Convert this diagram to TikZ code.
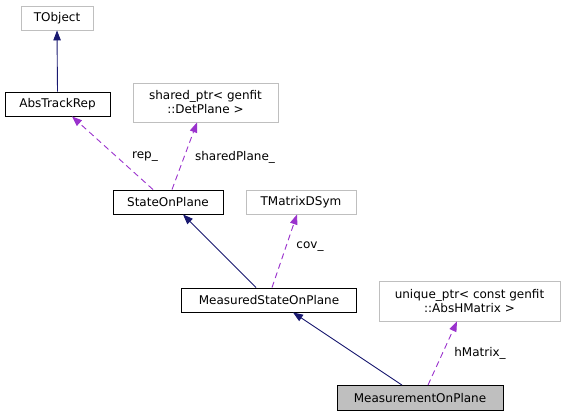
\documentclass[tikz,border=0pt]{standalone}
\usepackage{fontspec}
\setmainfont{DejaVu Sans}
\usetikzlibrary{arrows.meta}
\definecolor{navy}{HTML}{191970}
\definecolor{orchid}{HTML}{9A32CD}
\definecolor{extgray}{HTML}{BFBFBF}
\tikzset{
  box/.style={draw=black, line width=0.9pt, rectangle, inner sep=0pt, minimum height=24pt, font=\fontsize{12}{14}\selectfont, align=center},
  extbox/.style={box, draw=extgray},
  inh/.style={draw=navy, line width=0.9pt, -{Triangle[length=10pt,width=7.5pt]}},
  use/.style={draw=orchid, line width=0.9pt, dash pattern=on 6pt off 4pt, -{Triangle[length=10pt,width=7.5pt]}},
  lbl/.style={font=\fontsize{12}{14}\selectfont, inner sep=0pt}
}
\begin{document}
\begin{tikzpicture}[x=1pt,y=-1pt]
\useasboundingbox (0,0) rectangle (567,419);
\node[extbox, minimum width=72pt] (tobj) at (57,18) {TObject};
\node[box, minimum width=105pt] (atr) at (57.5,104) {AbsTrackRep};
\node[extbox, minimum width=145pt, minimum height=39pt] (sp) at (205.5,102.5) {shared\_ptr< genfit\\::DetPlane >};
\node[box, minimum width=110pt] (sop) at (168,202) {StateOnPlane};
\node[extbox, minimum width=110pt] (tm) at (301,202) {TMatrixDSym};
\node[box, minimum width=175pt] (msop) at (269,300) {MeasuredStateOnPlane};
\node[extbox, minimum width=181pt, minimum height=40pt] (up) at (469.5,301) {unique\_ptr< const genfit\\::AbsHMatrix >};
\node[box, fill=extgray, minimum width=166pt, minimum height=25pt] (mop) at (420,398) {MeasurementOnPlane};

\draw[inh] (atr.north) -- (tobj.south);
\draw[use] ([xshift=-15pt]sop.north) -- ([xshift=14.5pt]atr.south);
\node[lbl] (lrep) at (145,157) {rep\_};
\draw[use] ([xshift=4pt]sop.north) -- ([xshift=-8.5pt]sp.south);
\node[lbl] (lsp) at (235,157) {sharedPlane\_};
\draw[inh] ([xshift=-13pt]msop.north) -- ([xshift=15pt]sop.south);
\draw[use] ([xshift=3pt]msop.north) -- ([xshift=-4pt]tm.south);
\node[lbl] (lcov) at (310,247) {cov\_};
\draw[inh] ([xshift=-18pt]mop.north) -- ([xshift=24pt]msop.south);
\draw[use] ([xshift=8pt]mop.north) -- ([xshift=-12.5pt]up.south);
\node[lbl] (lh) at (480,353) {hMatrix\_};
\end{tikzpicture}
\end{document}
